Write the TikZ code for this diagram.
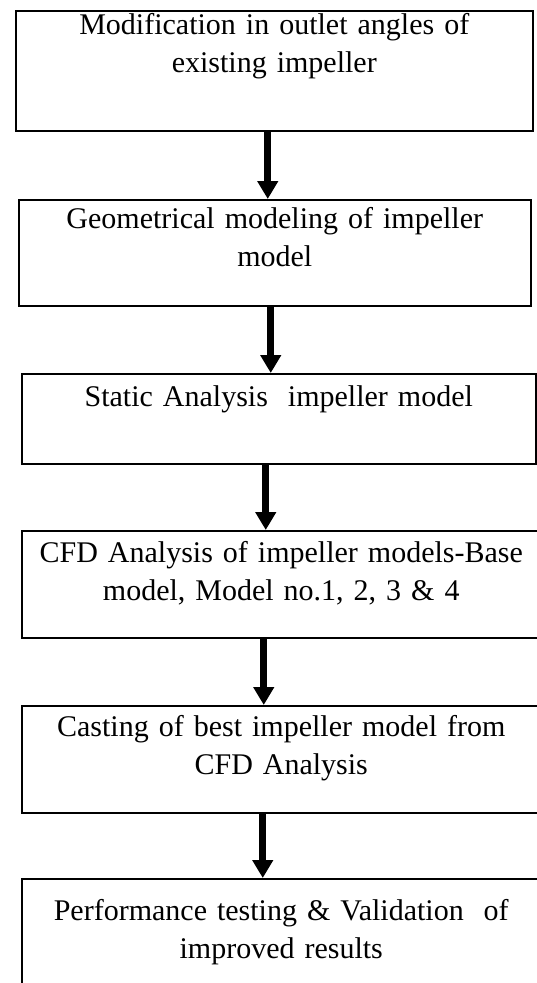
\documentclass[tikz,border=0pt]{standalone}
\usepackage{fontspec}
\setmainfont{Liberation Serif}
\usetikzlibrary{arrows.meta}

\tikzset{
  stepbox/.style={draw, line width=1.5pt, anchor=north west, align=center, inner sep=0pt,
    font=\fontsize{30}{38}\selectfont},
  flow/.style={line width=7pt, -{Triangle[width=20pt,length=18pt]}}
}

\begin{document}
\begin{tikzpicture}[x=1pt, y=-1pt]
\useasboundingbox (0,0) rectangle (536,983);
\node[stepbox, text width=517pt, text height=24pt, text depth=96pt] (s1) at (15,10) {Modification in outlet angles of\\existing impeller};
\node[stepbox, text width=512pt, text height=29pt, text depth=77pt] (s2) at (18,199) {Geometrical modeling of impeller\\model};
\node[stepbox, text width=514pt, text height=33pt, text depth=57pt] (s3) at (21,373) {Static Analysis\ \ impeller model};
\node[stepbox, text width=519pt, text height=32pt, text depth=75pt] (s4) at (21,530) {CFD Analysis of impeller models-Base\\model, Model no.1, 2, 3 \& 4};
\node[stepbox, text width=519pt, text height=31pt, text depth=76pt] (s5) at (21,705) {Casting of best impeller model from\\CFD Analysis};
\node[stepbox, text width=519pt, text height=42pt, text depth=74pt] (s6) at (21,878) {Performance testing \& Validation\ \ of\\improved results};
% arrows between the steps
\draw[flow] ([xshift=-6.5pt]s1.south) coordinate (a1) -- (a1 |- s2.north);
\draw[flow] ([xshift=-4pt]s2.south) coordinate (a2) -- (a2 |- s3.north);
\draw[flow] ([xshift=-13pt]s3.south) coordinate (a3) -- (a3 |- s4.north);
\draw[flow] ([xshift=-17.5pt]s4.south) coordinate (a4) -- (a4 |- s5.north);
\draw[flow] ([xshift=-18.5pt]s5.south) coordinate (a5) -- (a5 |- s6.north);
\end{tikzpicture}
\end{document}
